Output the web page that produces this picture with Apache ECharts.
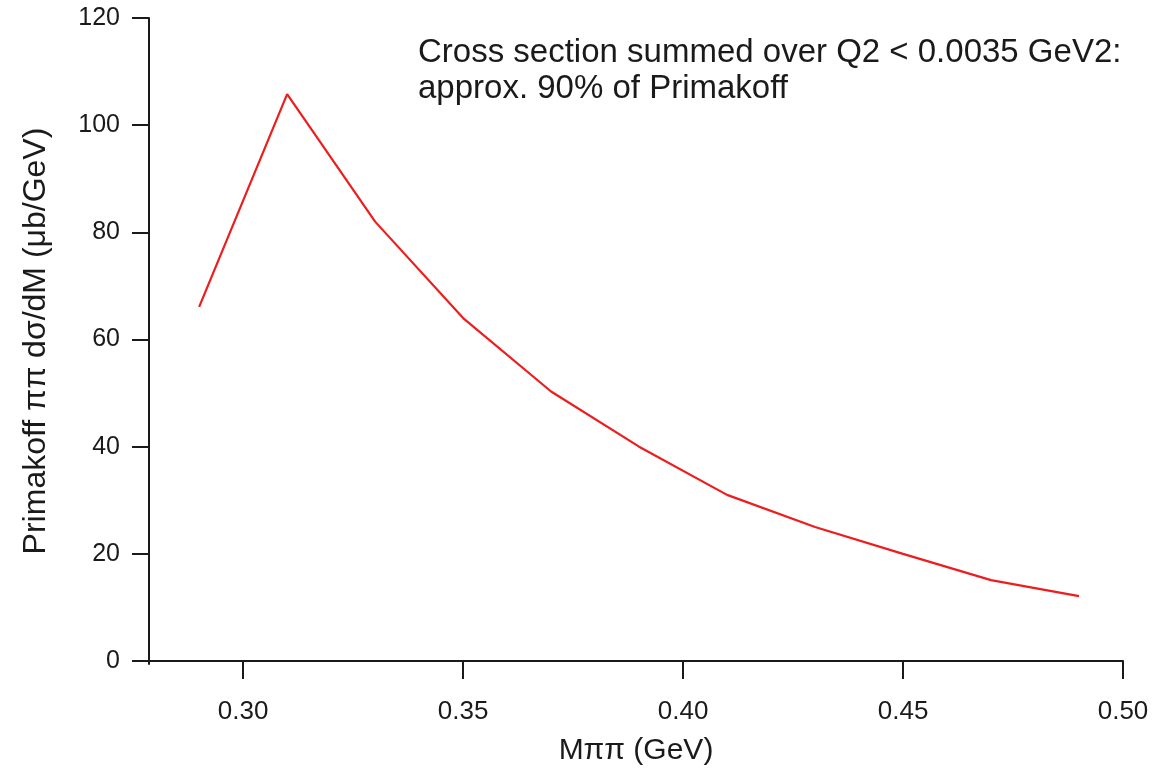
<!DOCTYPE html>
<html>
<head>
<meta charset="utf-8">
<script src="https://cdn.jsdelivr.net/npm/echarts@6/dist/echarts.min.js"></script>
<style>
  html, body { margin: 0; padding: 0; background: #fff; }
  #chart { width: 1153px; height: 771px; }
</style>
</head>
<body>
<div id="chart"></div>
<script>
// M(pi pi) in GeV and Primakoff cross section in ub/GeV
const massValues = [0.29, 0.31, 0.33, 0.35, 0.37, 0.39, 0.41, 0.43, 0.45, 0.47, 0.49];
const crossSection = [66.1, 105.8, 82.0, 64.0, 50.3, 40.0, 31.0, 25.0, 20.0, 15.1, 12.1];
const xTicks = [0.30, 0.35, 0.40, 0.45, 0.50];
const yTicks = [0, 20, 40, 60, 80, 100, 120];

const fontFam = '"Liberation Sans", Arial, sans-serif';
const axisColor = '#1a1a1a';
const textColor = '#1a1a1a';

let chart = echarts.init(document.getElementById('chart'), null, { renderer: 'canvas' });

let option = {
    backgroundColor: '#fff',
    animation: false,
    grid: { left: 149, right: 30, top: 18, bottom: 107, outerBoundsMode: 'none' },
    xAxis: {
        type: 'value',
        min: 0.2786,
        max: 0.50,
        name: 'M\u03c0\u03c0 (GeV)',
        nameLocation: 'middle',
        nameGap: 72,
        nameTextStyle: { fontFamily: fontFam, fontSize: 30, color: textColor },
        splitLine: { show: false },
        axisLine: { lineStyle: { color: axisColor, width: 2 } },
        axisTick: { customValues: xTicks, length: 18, lineStyle: { color: axisColor, width: 2 } },
        axisLabel: {
            customValues: xTicks,
            margin: 35,
            fontFamily: fontFam, fontSize: 26, color: textColor,
            formatter: v => v.toFixed(2)
        }
    },
    yAxis: {
        type: 'value',
        min: -0.56,
        max: 120,
        name: 'Primakoff \u03c0\u03c0 d\u03c3/dM (\u03bcb/GeV)',
        nameLocation: 'middle',
        nameGap: 97,
        nameTextStyle: { fontFamily: fontFam, fontSize: 32, color: textColor },
        splitLine: { show: false },
        axisLine: { show: true, lineStyle: { color: axisColor, width: 2 } },
        axisTick: { show: true, customValues: yTicks, length: 17, lineStyle: { color: axisColor, width: 2 } },
        axisLabel: {
            customValues: yTicks,
            margin: 29,
            fontFamily: fontFam, fontSize: 25, color: textColor
        }
    },
    graphic: [{
        type: 'text',
        left: 418,
        top: 35,
        style: {
            text: 'Cross section summed over Q2 < 0.0035 GeV2:\napprox. 90% of Primakoff',
            fontFamily: fontFam,
            fontSize: 33,
            lineHeight: 36,
            fill: textColor
        }
    }],
    series: [{
        type: 'line',
        data: massValues.map((m, i) => [m, crossSection[i]]),
        showSymbol: false,
        lineStyle: { color: '#ee1c1c', width: 2.2 },
        itemStyle: { color: '#ee1c1c' }
    }]
};

chart.setOption(option);
</script>
</body>
</html>
